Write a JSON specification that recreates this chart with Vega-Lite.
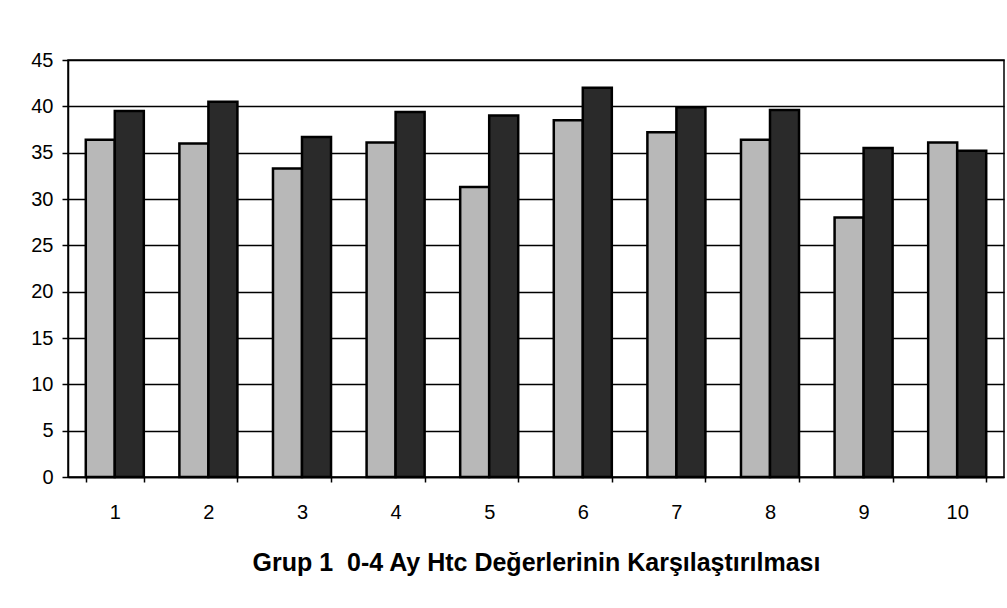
{
  "$schema": "https://vega.github.io/schema/vega-lite/v6.json",
  "width": 936,
  "height": 417,
  "autosize": {"type": "none"},
  "padding": {"left": 68, "top": 60, "right": 3, "bottom": 131},
  "background": "white",
  "data": {
    "values": [
      {"grup": "1", "seri": "Seri 1", "deger": 36.4},
      {"grup": "1", "seri": "Seri 2", "deger": 39.5},
      {"grup": "2", "seri": "Seri 1", "deger": 36.0},
      {"grup": "2", "seri": "Seri 2", "deger": 40.5},
      {"grup": "3", "seri": "Seri 1", "deger": 33.3},
      {"grup": "3", "seri": "Seri 2", "deger": 36.7},
      {"grup": "4", "seri": "Seri 1", "deger": 36.1},
      {"grup": "4", "seri": "Seri 2", "deger": 39.4},
      {"grup": "5", "seri": "Seri 1", "deger": 31.3},
      {"grup": "5", "seri": "Seri 2", "deger": 39.0},
      {"grup": "6", "seri": "Seri 1", "deger": 38.5},
      {"grup": "6", "seri": "Seri 2", "deger": 42.0},
      {"grup": "7", "seri": "Seri 1", "deger": 37.2},
      {"grup": "7", "seri": "Seri 2", "deger": 39.9},
      {"grup": "8", "seri": "Seri 1", "deger": 36.4},
      {"grup": "8", "seri": "Seri 2", "deger": 39.6},
      {"grup": "9", "seri": "Seri 1", "deger": 28.0},
      {"grup": "9", "seri": "Seri 2", "deger": 35.5},
      {"grup": "10", "seri": "Seri 1", "deger": 36.1},
      {"grup": "10", "seri": "Seri 2", "deger": 35.2}
    ]
  },
  "mark": {"type": "bar", "stroke": "black", "strokeWidth": 2.5},
  "encoding": {
    "x": {
      "field": "grup",
      "type": "ordinal",
      "sort": null,
      "scale": {"paddingInner": 0.38, "paddingOuter": 0.19},
      "axis": {
        "title": "Grup 1\u00a0 0-4 Ay Htc Değerlerinin Karşılaştırılması",
        "titleFont": "Liberation Sans",
        "titleFontSize": 25,
        "titleFontWeight": "bold",
        "titleColor": "black",
        "titlePadding": 28,
        "labelAngle": 0,
        "labelFont": "Liberation Sans",
        "labelFontSize": 20,
        "labelColor": "black",
        "labelPadding": 20,
        "tickBand": "extent",
        "tickColor": "black",
        "tickSize": 5,
        "tickWidth": 1.5,
        "domainColor": "black",
        "domainWidth": 1.5,
        "grid": false
      }
    },
    "xOffset": {"field": "seri", "type": "nominal"},
    "y": {
      "field": "deger",
      "type": "quantitative",
      "scale": {"domain": [0, 45], "nice": false},
      "axis": {
        "title": null,
        "values": [0, 5, 10, 15, 20, 25, 30, 35, 40, 45],
        "labelFont": "Liberation Sans",
        "labelFontSize": 20,
        "labelColor": "black",
        "labelPadding": 9,
        "tickColor": "black",
        "tickSize": 6,
        "tickWidth": 1.5,
        "domainColor": "black",
        "domainWidth": 1.5,
        "grid": true,
        "gridColor": "black",
        "gridWidth": 1.5,
        "gridOpacity": 1
      }
    },
    "color": {
      "field": "seri",
      "type": "nominal",
      "scale": {"domain": ["Seri 1", "Seri 2"], "range": ["#b8b8b8", "#2a2a2a"]},
      "legend": null
    }
  },
  "config": {
    "view": {"stroke": "black", "strokeWidth": 1.5}
  }
}
